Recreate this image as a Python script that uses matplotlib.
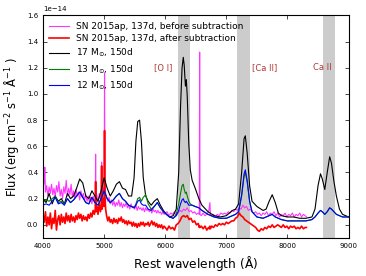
import numpy as np
from matplotlib import pyplot as plt

# observed spectrum before host subtraction (flux in 1e-14 erg/cm2/s/A)
obs_wl = [4000, 4020, 4030, 4040, 4060, 4080, 4100, 4120, 4140, 4160, 4180, 4200, 4220, 4240,
          4260, 4280, 4300, 4320, 4340, 4360, 4380, 4400, 4420, 4440, 4460, 4480, 4500, 4520,
          4540, 4560, 4580, 4600, 4620, 4640, 4660, 4680, 4700, 4720, 4740, 4760, 4780, 4800,
          4820, 4840, 4855, 4861, 4867, 4880, 4900, 4920, 4940, 4952, 4959, 4966, 4980, 4995,
          5001, 5007, 5013, 5025, 5040, 5060, 5080, 5100, 5120, 5140, 5160, 5180, 5200, 5220,
          5240, 5260, 5280, 5300, 5320, 5340, 5360, 5380, 5400, 5420, 5440, 5460, 5480, 5500,
          5520, 5540, 5560, 5580, 5600, 5620, 5640, 5660, 5680, 5700, 5720, 5740, 5760, 5780,
          5800, 5820, 5840, 5860, 5880, 5900, 5920, 5940, 5960, 5980, 6000, 6030, 6060, 6090,
          6120, 6150, 6180, 6210, 6240, 6270, 6300, 6330, 6360, 6390, 6420, 6450, 6480, 6510,
          6540, 6557, 6563, 6569, 6590, 6620, 6650, 6680, 6710, 6724, 6731, 6738, 6760, 6790,
          6820, 6850, 6880, 6910, 6940, 6970, 7000, 7030, 7060, 7090, 7120, 7150, 7180, 7210,
          7240, 7270, 7300, 7330, 7360, 7390, 7420, 7450, 7480, 7510, 7540, 7570, 7600, 7630,
          7660, 7690, 7720, 7750, 7780, 7810, 7840, 7870, 7900, 7930, 7960, 7990, 8020, 8050,
          8080, 8110, 8140, 8170, 8200, 8230, 8260, 8290, 8310]
obs_before = [0.27, 0.33, 0.44, 0.25, 0.30, 0.22, 0.29, 0.24, 0.31, 0.23, 0.28, 0.21, 0.30, 0.25,
              0.33, 0.22, 0.27, 0.20, 0.29, 0.24, 0.34, 0.22, 0.28, 0.23, 0.31, 0.21, 0.26, 0.20,
              0.27, 0.22, 0.25, 0.19, 0.26, 0.21, 0.24, 0.19, 0.23, 0.18, 0.22, 0.17, 0.21, 0.16,
              0.22, 0.18, 0.20, 0.54, 0.19, 0.23, 0.17, 0.24, 0.20, 0.22, 0.48, 0.24, 0.28, 0.25,
              0.30, 1.16, 0.32, 0.24, 0.21, 0.18, 0.21, 0.16, 0.19, 0.15, 0.18, 0.14, 0.17, 0.15,
              0.19, 0.14, 0.17, 0.13, 0.16, 0.14, 0.17, 0.13, 0.15, 0.12, 0.16, 0.13, 0.14, 0.12,
              0.15, 0.11, 0.14, 0.12, 0.13, 0.11, 0.13, 0.10, 0.13, 0.11, 0.12, 0.10, 0.12, 0.09,
              0.12, 0.10, 0.11, 0.09, 0.11, 0.09, 0.10, 0.08, 0.10, 0.08, 0.09, 0.10, 0.07, 0.09,
              0.08, 0.10, 0.07, 0.09, 0.11, 0.10, 0.12, 0.11, 0.13, 0.10, 0.11, 0.09, 0.10, 0.08,
              0.09, 0.08, 1.32, 0.08, 0.07, 0.09, 0.07, 0.08, 0.10, 0.15, 0.17, 0.08, 0.07, 0.08,
              0.06, 0.08, 0.07, 0.09, 0.08, 0.09, 0.08, 0.10, 0.09, 0.11, 0.10, 0.12, 0.11, 0.13,
              0.12, 0.15, 0.13, 0.14, 0.11, 0.12, 0.10, 0.09, 0.10, 0.08, 0.09, 0.07, 0.09, 0.08,
              0.10, 0.07, 0.09, 0.08, 0.10, 0.07, 0.09, 0.06, 0.08, 0.07, 0.09, 0.06, 0.08, 0.07,
              0.09, 0.06, 0.08, 0.07, 0.09, 0.06, 0.08, 0.07, 0.06]
obs_after = [0.08, 0.02, 0.06, 0.10, -0.01, 0.06, 0.00, 0.09, -0.03, 0.05, 0.01, 0.11, -0.04, 0.04,
             0.07, 0.00, 0.08, 0.02, 0.06, 0.01, 0.09, 0.03, 0.07, 0.02, 0.08, 0.03, 0.06, 0.02,
             0.07, 0.04, 0.09, 0.05, 0.08, 0.03, 0.07, 0.04, 0.06, 0.03, 0.08, 0.05, 0.09, 0.06,
             0.11, 0.08, 0.12, 0.33, 0.10, 0.14, 0.08, 0.16, 0.10, 0.15, 0.45, 0.12, 0.20, 0.14,
             0.25, 0.72, 0.22, 0.12, 0.07, 0.03, 0.06, 0.02, 0.04, 0.01, 0.05, 0.02, 0.04, 0.01,
             0.05, 0.03, 0.06, 0.02, 0.04, 0.01, 0.03, 0.00, 0.03, 0.01, 0.02, -0.01, 0.02, -0.01,
             0.01, -0.02, 0.01, -0.01, 0.02, 0.00, 0.02, -0.01, 0.01, 0.00, 0.02, -0.01, 0.01, 0.03,
             0.00, 0.02, -0.01, 0.01, -0.02, 0.00, -0.02, 0.00, -0.03, -0.01, -0.02, -0.04, -0.01, -0.03,
             -0.02, -0.04, 0.00, 0.01, 0.03, 0.06, 0.07, 0.06, 0.07, 0.04, 0.05, 0.02, 0.03, 0.00,
             0.01, -0.02, -0.01, -0.02, -0.01, -0.03, -0.01, -0.04, -0.02, -0.03, -0.01, -0.03, -0.01, -0.02,
             0.00, -0.01, 0.01, 0.00, 0.01, 0.00, 0.02, 0.01, 0.02, 0.03, 0.03, 0.05, 0.06, 0.09,
             0.07, 0.06, 0.04, 0.03, 0.02, 0.01, 0.00, -0.01, -0.02, -0.04, -0.05, -0.03, -0.04, -0.02,
             -0.03, -0.01, -0.02, 0.00, -0.02, -0.01, 0.00, -0.01, -0.02, 0.00, -0.02, -0.01, -0.03, -0.01,
             -0.02, -0.01, -0.03, -0.02, -0.03, -0.01, -0.03, -0.02, -0.02]

# nebular models, 150d
mod_wl = [4000, 4050, 4100, 4150, 4200, 4250, 4300, 4350, 4400, 4450, 4500, 4550, 4600, 4650,
          4700, 4750, 4800, 4850, 4900, 4950, 5000, 5050, 5100, 5150, 5200, 5250, 5300, 5350,
          5400, 5450, 5490, 5520, 5550, 5580, 5610, 5640, 5680, 5720, 5770, 5820, 5870, 5920,
          5970, 6020, 6070, 6130, 6180, 6220, 6250, 6275, 6295, 6310, 6330, 6345, 6360, 6385,
          6410, 6440, 6490, 6550, 6600, 6700, 6800, 6900, 7000, 7050, 7100, 7150, 7200, 7250,
          7290, 7310, 7340, 7380, 7420, 7500, 7600, 7650, 7700, 7750, 7800, 7850, 7900, 8000,
          8100, 8200, 8300, 8400, 8450, 8500, 8540, 8570, 8610, 8650, 8690, 8720, 8760, 8800,
          8850, 8900, 8950, 9000]
m17 = [0.20, 0.17, 0.24, 0.16, 0.22, 0.18, 0.20, 0.16, 0.24, 0.20, 0.22, 0.28, 0.35, 0.32,
       0.22, 0.20, 0.26, 0.22, 0.18, 0.26, 0.36, 0.28, 0.22, 0.26, 0.31, 0.33, 0.28, 0.27,
       0.22, 0.22, 0.36, 0.64, 0.79, 0.80, 0.64, 0.36, 0.22, 0.18, 0.15, 0.18, 0.20, 0.15,
       0.11, 0.08, 0.06, 0.07, 0.12, 0.40, 0.90, 1.20, 1.28, 1.22, 1.06, 1.11, 0.98, 0.62,
       0.42, 0.34, 0.28, 0.20, 0.15, 0.10, 0.07, 0.06, 0.07, 0.09, 0.11, 0.12, 0.16, 0.40,
       0.66, 0.68, 0.55, 0.30, 0.18, 0.14, 0.11, 0.12, 0.18, 0.23, 0.17, 0.09, 0.07, 0.06,
       0.06, 0.05, 0.05, 0.06, 0.12, 0.30, 0.39, 0.35, 0.27, 0.40, 0.52, 0.47, 0.33, 0.22,
       0.12, 0.08, 0.07, 0.06]
m13 = [0.17, 0.19, 0.18, 0.20, 0.22, 0.17, 0.18, 0.16, 0.20, 0.17, 0.19, 0.22, 0.25, 0.21,
       0.17, 0.16, 0.21, 0.17, 0.15, 0.20, 0.26, 0.20, 0.17, 0.19, 0.22, 0.24, 0.20, 0.18,
       0.15, 0.14, 0.13, 0.16, 0.20, 0.21, 0.18, 0.21, 0.23, 0.16, 0.12, 0.14, 0.17, 0.13,
       0.10, 0.08, 0.06, 0.05, 0.08, 0.16, 0.24, 0.30, 0.31, 0.27, 0.24, 0.25, 0.22, 0.18,
       0.16, 0.15, 0.14, 0.13, 0.11, 0.08, 0.06, 0.05, 0.05, 0.06, 0.07, 0.08, 0.10, 0.22,
       0.37, 0.40, 0.33, 0.18, 0.10, 0.06, 0.05, 0.06, 0.07, 0.08, 0.06, 0.05, 0.04, 0.03,
       0.03, 0.03, 0.03, 0.04, 0.06, 0.09, 0.11, 0.10, 0.08, 0.10, 0.13, 0.12, 0.10, 0.08,
       0.07, 0.06, 0.06, 0.06]
m12 = [0.15, 0.16, 0.15, 0.18, 0.21, 0.16, 0.17, 0.15, 0.20, 0.17, 0.19, 0.22, 0.25, 0.21,
       0.17, 0.16, 0.21, 0.17, 0.15, 0.20, 0.26, 0.20, 0.17, 0.19, 0.22, 0.24, 0.20, 0.18,
       0.15, 0.14, 0.13, 0.15, 0.18, 0.19, 0.16, 0.15, 0.15, 0.12, 0.11, 0.14, 0.17, 0.13,
       0.10, 0.08, 0.06, 0.05, 0.07, 0.11, 0.16, 0.19, 0.20, 0.18, 0.17, 0.18, 0.17, 0.15,
       0.15, 0.15, 0.14, 0.13, 0.11, 0.08, 0.06, 0.05, 0.05, 0.06, 0.07, 0.08, 0.10, 0.23,
       0.39, 0.42, 0.34, 0.18, 0.10, 0.06, 0.05, 0.06, 0.07, 0.08, 0.06, 0.05, 0.04, 0.03,
       0.03, 0.03, 0.03, 0.04, 0.06, 0.09, 0.11, 0.10, 0.08, 0.10, 0.13, 0.12, 0.10, 0.08,
       0.07, 0.06, 0.06, 0.06]

# shaded line regions and their labels
bands = [(6210, 6410), (7180, 7390), (8575, 8770)]
band_labels = ['[O I]', '[Ca II]', 'Ca II']
label_x = [5970, 7620, 8575]
label_y = 1.2

scale = 1e-14


def main():
    plt.rcParams['font.family'] = 'DejaVu Sans'
    fig = plt.figure(figsize=(3.66, 2.76), dpi=100)
    ax = fig.add_axes([0.1175, 0.138, 0.835, 0.806])

    for lo, hi in bands:
        ax.axvspan(lo, hi, color='0.8', lw=0, zorder=0)

    ax.plot(obs_wl, np.array(obs_before) * scale, color='#ff33ff', lw=0.8,
            label='SN 2015ap, 137d, before subtraction')
    ax.plot(obs_wl, np.array(obs_after) * scale, color='red', lw=1.2,
            label='SN 2015ap, 137d, after subtraction')
    ax.plot(mod_wl, np.array(m17) * scale, color='black', lw=0.8, label=r'17 M$_{\odot}$, 150d')
    ax.plot(mod_wl, np.array(m13) * scale, color='green', lw=0.8, label=r'13 M$_{\odot}$, 150d')
    ax.plot(mod_wl, np.array(m12) * scale, color='blue', lw=0.8, label=r'12 M$_{\odot}$, 150d')

    for txt, x in zip(band_labels, label_x):
        ax.text(x, label_y * scale, txt, color='#b03a3a', fontsize=6, ha='center', va='center')

    ax.set_xlim(4000, 9000)
    ax.set_ylim(-0.1 * scale, 1.6 * scale)
    ax.set_xticks([4000, 5000, 6000, 7000, 8000, 9000])
    ax.set_yticks(np.arange(0, 1.61, 0.2) * scale)
    ax.tick_params(direction='in', top=True, right=True, labelsize=5, length=3, width=0.5)
    ax.yaxis.get_offset_text().set_fontsize(5)
    for sp in ax.spines.values():
        sp.set_linewidth(0.8)

    ax.set_xlabel(r'Rest wavelength ($\mathrm{\AA}$)', fontsize=8.8)
    ax.set_ylabel(r'Flux (erg cm$^{-2}$ s$^{-1}$ $\mathrm{\AA}^{-1}$ )', fontsize=8.3)

    ax.legend(loc='upper left', frameon=False, fontsize=6.5, handlelength=2.2,
              labelspacing=0.4, borderaxespad=0.3)

    fig.savefig('out.png', dpi=100)


if __name__ == '__main__':
    main()
